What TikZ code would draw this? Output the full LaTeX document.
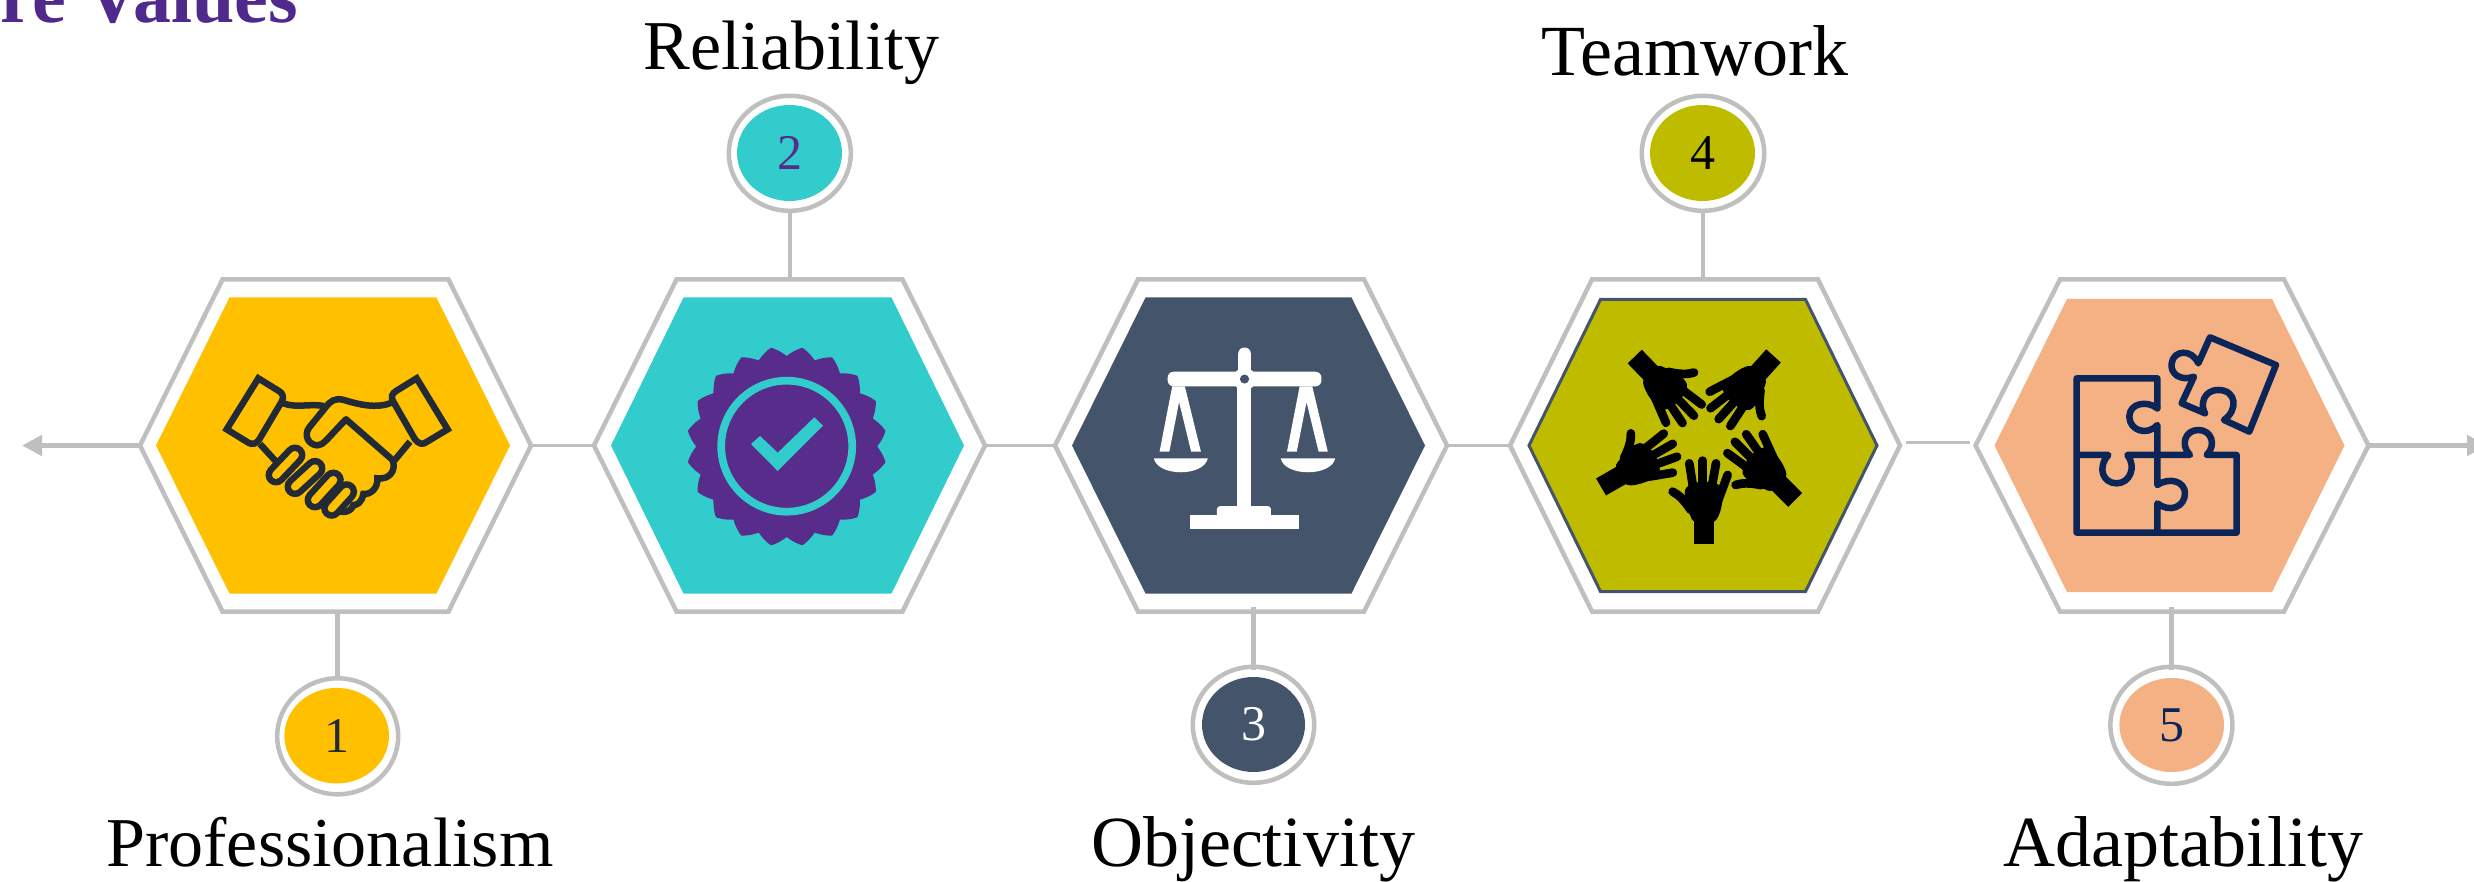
\documentclass[tikz,border=0pt]{standalone}
\usepackage{fontspec}
\setmainfont{Liberation Serif}
\usetikzlibrary{positioning}
\usetikzlibrary{shapes.geometric}
\usetikzlibrary{arrows.meta}
\usetikzlibrary{calc}

\definecolor{ruleGrey}{HTML}{BFBFBF}
\definecolor{gold}{HTML}{FFC000}
\definecolor{teal}{HTML}{33CCCC}
\definecolor{slate}{HTML}{44546A}
\definecolor{olive}{HTML}{BFBC00}
\definecolor{peach}{HTML}{F4B183}
\definecolor{violet}{HTML}{582C8B}
\definecolor{titleViolet}{HTML}{4F2A8C}
\definecolor{ink}{HTML}{222A35}
\definecolor{navy}{HTML}{0B2559}

\tikzset{
  hexbox/.style={rectangle, inner sep=0pt, outer sep=0pt},
  frame/.style={draw=ruleGrey, line width=4.5pt, fill=white, line join=miter},
  link/.style={draw=ruleGrey, line width=2.5pt},
  stem/.style={draw=ruleGrey, line width=4.5pt},
  tail/.style={draw=ruleGrey, line width=5pt, -{Triangle[length=20pt,width=20pt]}},
  halo/.style={ellipse, draw=ruleGrey, line width=4.5pt, fill=white, inner sep=0pt},
  badge/.style={ellipse, inner sep=0pt, font=\fontsize{50}{50}\selectfont},
  caption/.style={anchor=base, inner sep=0pt, font=\fontsize{72}{72}\selectfont},
  snug/.style={font=\fontsize{70}{72}\selectfont},
  shake/.style={draw=ink, line width=6.5pt, line join=miter},
  finger/.style={line width=6.5pt, draw=ink, double=gold, double distance=8pt, line cap=round},
  digit/.style={line width=8.7pt, line cap=round},
  puzzle/.style={draw=navy, line width=6.5pt, line join=round, line cap=round},
  hand/.pic={
    \fill (-29,60) rectangle (30,133);
    \fill plot[smooth cycle] coordinates {(-58,-20) (-45,-45) (0,-55) (45,-45) (56,-15) (50,30) (30,65) (-28,65) (-45,35)};
    \draw[digit] (-30,-20) -- (-44,-110);
    \draw[digit] (-4,-30) -- (-4,-118);
    \draw[digit] (20,-20) -- (36,-110);
    \draw[digit] (43,0) -- (71,-75);
    \draw[digit] (-40,30) .. controls (-60,0) and (-75,-15) .. (-94,-25);
  }
}

% name, centre x, half width, half top edge, half height, look
\newcommand{\hexcell}[6]{%
  \node[hexbox, minimum width={2*#3}, minimum height={2*#5}] (#1) at (#2,445.5) {};
  \path[#6] (#1.west) -- ($(#1.north west)+(#3-#4,0)$) -- ($(#1.north east)+(#4-#3,0)$) -- (#1.east)
    -- ($(#1.south east)+(#4-#3,0)$) -- ($(#1.south west)+(#3-#4,0)$) -- cycle;
}

\begin{document}
\begin{tikzpicture}[x=1pt,y=-1pt]
\useasboundingbox (0,0) rectangle (2474,882);

% title
\node[anchor=base west, inner sep=0pt, text=titleViolet, font=\fontsize{76}{76}\selectfont\bfseries] (title) at (-37.7,22.7) {ore Values};

% frames
\hexcell{h1}{335.5}{195.5}{113}{166}{frame}
\hexcell{h2}{789.5}{195.5}{113}{166}{frame}
\hexcell{h3}{1251}{196}{113}{166}{frame}
\hexcell{h4}{1705}{195}{113}{166}{frame}
\hexcell{h5}{2172}{196.5}{112}{166}{frame}

% faces
\hexcell{f1}{333}{177}{103.5}{148}{fill=gold}
\hexcell{f2}{787.5}{176.5}{104}{148}{fill=teal}
\hexcell{f3}{1248.5}{176.5}{103}{148}{fill=slate}
\hexcell{f4}{1703}{174}{102.5}{146}{fill=olive, draw=slate, line width=3pt}
\hexcell{f5}{2169.5}{175}{102.5}{146.5}{fill=peach}

% line through the row
\coordinate (tailL) at (22,445.5);
\coordinate (tailR) at (2487,445.5);
\draw[tail] (h1.west) -- (tailL);
\draw[tail] (h5.east) -- (tailR);
\draw[link] (h1.east) -- (h2.west);
\draw[link] (h2.east) -- (h3.west);
\draw[link] (h3.east) -- (h4.west);
\draw[link] ([xshift=6pt,yshift=3pt]h4.east) -- ([xshift=-6pt,yshift=3pt]h5.west);

% 1
\node[halo, minimum width=121pt, minimum height=116pt] (c1) at (337.7,736.3) {};
\node[badge, fill=gold, text=ink, minimum width=104.6pt, minimum height=95.5pt] (n1) at (336.7,735.7) {1};
\draw[stem] (c1.north) -- (c1.north |- h1.south);
\node[caption, snug] (t1) at (330,866) {Professionalism};

% 2
\node[halo, minimum width=122pt, minimum height=115pt] (c2) at (789.8,153.3) {};
\node[badge, fill=teal, text=violet, minimum width=105pt, minimum height=96pt] (n2) at (789.5,153) {2};
\draw[stem] (c2.south) -- (c2.south |- h2.north);
\node[caption, snug] (t2) at (791.5,70) {Reliability};

% 3
\node[halo, minimum width=121.5pt, minimum height=116pt] (c3) at (1253.5,724.8) {};
\node[badge, fill=slate, text=white, minimum width=103pt, minimum height=95pt] (n3) at (1253.5,724.5) {3};
\draw[stem, shorten <=-5pt, shorten >=-5pt] (c3.north |- h3.south) -- (c3.north);
\node[caption] (t3) at (1253,866) {Objectivity};

% 4
\node[halo, minimum width=122.5pt, minimum height=115pt] (c4) at (1703,153.3) {};
\node[badge, fill=olive, text=black, minimum width=105pt, minimum height=96pt] (n4) at (1702.5,153) {4};
\draw[stem] (c4.south) -- (c4.south |- h4.north);
\node[caption] (t4) at (1695,76) {Teamwork};

% 5
\node[halo, minimum width=122pt, minimum height=117pt] (c5) at (2171.4,725.3) {};
\node[badge, fill=peach, text=navy, minimum width=104.6pt, minimum height=94pt] (n5) at (2171.7,725) {5};
\draw[stem, shorten <=-5pt, shorten >=-5pt] (c5.north |- h5.south) -- (c5.north);
\node[caption] (t5) at (2183,866) {Adaptability};

% handshake
\begin{scope}[shift={(200,340)}, x=0.3333pt, y=-0.3333pt]
\draw[shake] (175,115) -- (235,152) .. controls (250,160) and (252,172) .. (245,185) -- (178,298) .. controls (170,312) and (155,315) .. (145,308) -- (80,268) -- cycle;
\draw[shake] (650,115) -- (590,152) .. controls (575,160) and (572,172) .. (580,185) -- (645,298) .. controls (655,312) and (670,315) .. (680,306) -- (743,268) -- cycle;
\draw[shake] (250,190) .. controls (290,205) and (330,190) .. (372,198);
\draw[shake, line join=round, line cap=round] (570,190) .. controls (530,205) and (480,195) .. (432,180) .. controls (405,172) and (390,185) .. (380,198) -- (328,262) .. controls (310,285) and (325,315) .. (352,316) .. controls (370,316) and (378,300) .. (438,238) -- (578,360);
\draw[shake, line cap=round] (578,360) .. controls (590,395) and (565,420) .. (532,415) .. controls (535,445) and (510,465) .. (490,462) .. controls (485,490) and (470,495) .. (460,495) .. controls (455,515) and (425,525) .. (405,505);
\draw[shake] (180,312) -- (235,372);
\draw[shake] (630,305) -- (583,362);
\draw[finger] (440,455) -- (395,505);
\draw[finger] (400,420) -- (345,480);
\draw[finger] (345,385) -- (285,440);
\draw[finger] (285,345) -- (228,405);
\end{scope}

% seal
\fill[violet] plot[domain=0:360, samples=241] ({786.7+(90.5+9.5*(0.75*asin(abs(sin(10*\x)))/90+0.25*abs(sin(10*\x))))*cos(\x)}, {446.5+(90.5+9.5*(0.75*asin(abs(sin(10*\x)))/90+0.25*abs(sin(10*\x))))*sin(\x)}) -- cycle;
\draw[teal, line width=7.7pt] (786.7,446.2) circle [radius=65.5];
\fill[teal] (751,444) -- (760,436) -- (777.7,452.7) -- (814.3,417.3) -- (823,425.7) -- (777.7,471) -- cycle;

% scales
\begin{scope}[shift={(1000,0)}, x=0.574pt, y=-0.5624pt]
\fill[white] (413,665) rectangle (438,905);
\fill[white, rounded corners=6pt] (415,618) rectangle (437,670);
\fill[white, rounded corners=6pt] (292,661) rectangle (560,687);
\fill[white] (426,674) circle [radius=20];
\fill[slate] (426,674) circle [radius=8];
\fill[white, rounded corners=3pt] (378,920) -- (378,900) -- (472,900) -- (472,920) -- cycle;
\fill[white] (331,916) rectangle (521,941);
\fill[white] (300,687) -- (278,803) -- (295,803) -- (312,715) -- (333,803) -- (350,803) -- (322,687) -- cycle;
\fill[white] (522,687) -- (500,803) -- (517,803) -- (534,715) -- (555,803) -- (571,803) -- (544,687) -- cycle;
\fill[white] (268,815) .. controls (275,848) and (355,848) .. (362,815) -- cycle;
\fill[white] (489,815) .. controls (496,848) and (577,848) .. (584,815) -- cycle;
\end{scope}

% hands
\begin{scope}[shift={(1590,320)}, x=0.3333pt, y=-0.3333pt]
\pic (handA) at (342,540) {hand};
\pic[rotate=-60] (handB) at (148,434) {hand};
\pic[rotate=-136] (handC) at (227,205) {hand};
\pic[rotate=-222] (handD) at (462,207) {hand};
\pic[rotate=45] (handE) at (521,446) {hand};
\end{scope}

% puzzle
\begin{scope}[shift={(2040,310)}, x=0.3333pt, y=-0.3333pt]
\draw[puzzle] (352,295) -- (352,205) -- (110,205) -- (110,668) -- (590,668) -- (590,435) -- (500,435)
  .. controls (530,405) and (515,360) .. (475,360) .. controls (435,360) and (420,405) .. (450,435)
  -- (262,435) .. controls (290,470) and (270,520) .. (230,520) .. controls (190,520) and (170,475) .. (205,435) -- (110,435);
\draw[puzzle] (352,295) .. controls (320,270) and (268,280) .. (268,320) .. controls (268,360) and (320,380) .. (352,345)
  -- (352,525) .. controls (390,500) and (435,515) .. (435,550) .. controls (435,590) and (390,610) .. (352,580) -- (352,668);
\draw[puzzle] (510,82) -- (708,165) -- (628,365) -- (552,330) .. controls (595,300) and (590,240) .. (535,240)
  .. controls (490,240) and (480,285) .. (495,310) -- (425,280) -- (462,200) .. controls (420,215) and (390,190) .. (395,160)
  .. controls (400,120) and (455,115) .. (475,160) -- cycle;
\end{scope}
\end{tikzpicture}
\end{document}
